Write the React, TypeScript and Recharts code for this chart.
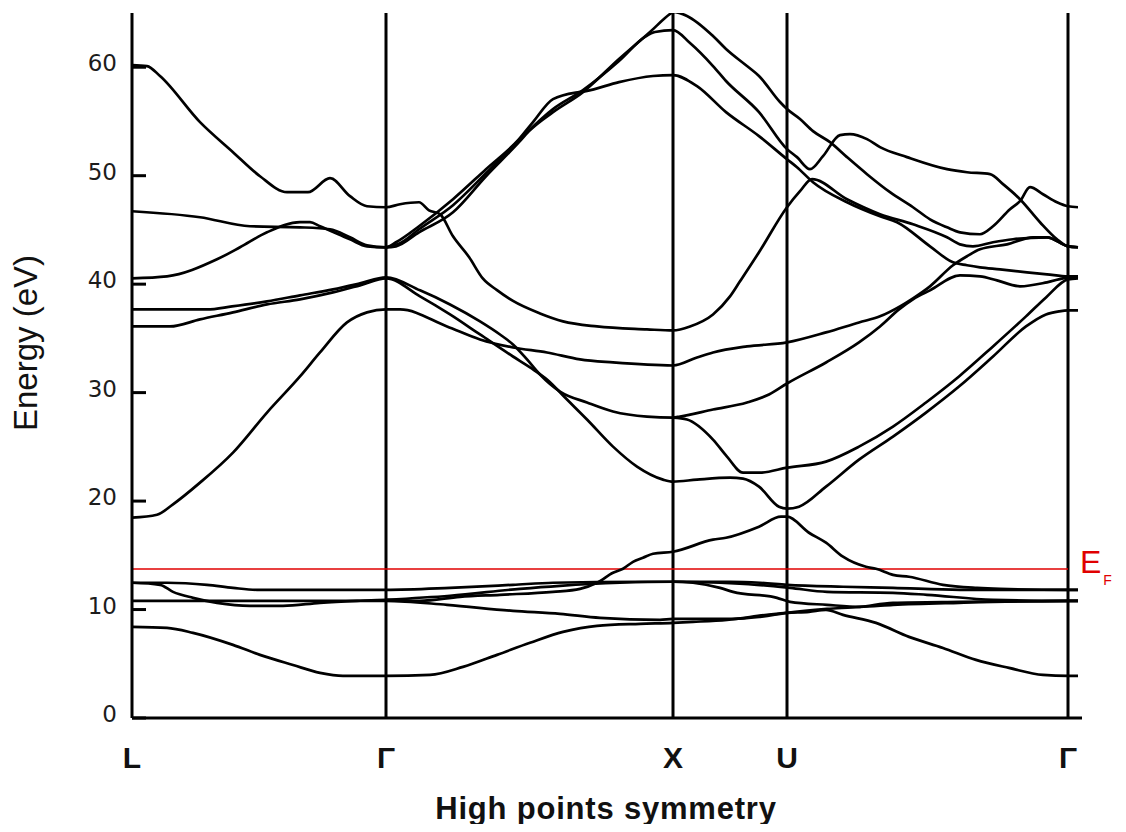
import React from "react";
import { LineChart, Line, XAxis, YAxis, ReferenceLine } from "recharts";

type Pt = [number, number];

// k-path positions of the high-symmetry points and their labels
const symmetryPoints = [0, 254, 541, 655, 936];
const symmetryLabels = ["L", "Γ", "X", "U", "Γ"];
const energyTicks = [0, 10, 20, 30, 40, 50, 60];
const fermiEnergy = 13.73;
const pathEnd = 936;

// bands: [k, energy (eV)]
const bandA: Pt[] = [[0,60.2],[15,60.11],[28,59.19],[68,54.94],[101,52.17],[128,49.95],[155,48.48],[176,48.48],[198,49.77],[218,48.11],[235,47.18],[254,47.09],[268,47.37],[287,47.55],[297,46.81],[308,46.45],[321,44.41],[337,42.5],[351,40.5],[365,39.45],[381,38.45],[408,37.3],[431,36.57],[465,36.1],[515,35.83],[541,35.73],[558,36.1],[581,37.21],[598,38.87],[608,40.26],[627,42.94],[655,47.09],[668,48.57],[680,49.68],[715,47.83],[748,46.45],[781,45.52],[815,44.32],[828,43.67],[841,43.49],[861,43.86],[881,44.14],[915,44.32],[936,43.49],[946,43.4]];
const bandB: Pt[] = [[0,46.72],[68,46.17],[118,45.34],[168,45.24],[198,45.06],[218,44.32],[235,43.58],[254,43.4],[264,43.86],[287,45.34],[321,47.83],[354,50.6],[387,53.37],[401,54.94],[421,57.06],[447,57.71],[454,57.8],[487,58.63],[521,59.19],[541,59.28],[565,58.26],[594,55.86],[627,53.65],[655,51.52],[665,50.78],[681,49.4],[715,47.55],[748,46.26],[765,45.71],[798,43.49],[821,42.01],[835,41.74],[848,41.55],[868,41.37],[895,41.09],[915,40.91],[936,40.72],[946,40.72]];
const bandC: Pt[] = [[0,40.54],[35,40.72],[85,42.29],[108,43.4],[135,44.78],[168,45.71],[178,45.71],[188,45.34],[218,44.14],[235,43.49],[254,43.4],[264,43.49],[287,44.78],[321,46.63],[354,49.95],[387,53.09],[397,54.11],[421,55.86],[451,57.71],[487,60.76],[518,63.25],[538,64.91],[541,65.1],[555,64.73],[581,62.88],[594,61.68],[615,60.11],[627,59.19],[648,56.79],[655,56.14],[668,55.22],[681,54.11],[698,53.09],[715,51.71],[735,50.14],[758,48.48],[781,47.09],[798,45.98],[815,45.24],[828,44.78],[848,44.6],[861,45.34],[878,46.91],[888,47.65],[898,48.94],[911,48.29],[925,47.55],[936,47.18],[946,47.09]];
const bandD3: Pt[] = [[254,43.4],[268,43.77],[287,45.06],[321,47.28],[354,50.23],[387,53.28],[421,56.14],[451,57.89],[487,60.57],[513,62.79],[523,63.25],[541,63.43],[558,62.23],[581,60.11],[594,58.73],[627,55.86],[655,52.45],[665,51.71],[678,50.6],[691,51.8],[708,53.74],[718,53.83],[735,53.37],[748,52.63],[775,51.71],[815,50.6],[835,50.32],[858,50.14],[871,49.22],[888,47.83],[908,45.71],[925,44.14],[936,43.49],[946,43.4]];
const bandD: Pt[] = [[0,37.67],[75,37.67],[100,37.95],[135,38.41],[168,38.97],[201,39.52],[228,40.07],[254,40.63],[288,39.43],[318,38.13],[348,36.57],[368,35.36],[381,34.44],[395,33.06],[408,31.67],[428,30.1],[455,29.09],[481,28.26],[515,27.79],[541,27.7],[548,27.79],[581,28.44],[615,29.09],[637,29.82],[655,30.84],[694,32.78],[727,34.63],[748,36.1],[767,37.67],[781,38.6],[798,39.43],[828,40.81],[848,40.72],[865,40.35],[888,39.8],[915,40.17],[936,40.63],[946,40.72]];
const bandE: Pt[] = [[0,36.1],[38,36.1],[68,36.75],[101,37.4],[135,38.13],[168,38.6],[201,39.24],[228,39.89],[254,40.54],[288,38.87],[318,37.21],[348,35.36],[381,33.33],[398,32.32],[415,31.21],[435,29.36],[455,27.52],[481,25.02],[505,23.18],[531,21.98],[541,21.79],[565,21.98],[598,22.16],[611,22.07],[627,21.33],[647,19.48],[655,19.3],[667,19.48],[694,21.33],[727,23.82],[761,25.95],[794,28.16],[827,30.56],[861,33.33],[894,36.1],[914,37.21],[927,37.49],[936,37.58],[946,37.58]];
const bandF: Pt[] = [[0,18.47],[25,18.74],[41,19.7],[68,21.7],[101,24.47],[135,28.16],[168,31.49],[188,33.7],[215,36.47],[235,37.4],[254,37.67],[268,37.67],[315,36.1],[348,34.9],[381,34.16],[415,33.7],[448,33.06],[481,32.78],[541,32.5],[565,33.24],[581,33.7],[615,34.26],[655,34.63],[694,35.55],[727,36.47],[748,37.03],[768,37.95],[781,38.69],[798,39.8],[821,41.74],[835,42.57],[848,43.21],[875,43.67],[901,44.32],[915,44.32],[936,43.49],[946,43.4]];
const bandK: Pt[] = [[541,27.7],[555,27.52],[581,25.67],[595,24.1],[611,22.62],[628,22.62],[655,23.08],[694,23.64],[727,25.02],[761,26.87],[794,29.09],[827,31.49],[861,34.26],[894,37.03],[914,38.78],[936,40.44],[946,40.54]];
const bandG: Pt[] = [[0,12.47],[35,12.47],[75,12.28],[101,12.0],[125,11.82],[254,11.82],[318,12.0],[381,12.28],[421,12.47],[508,12.56],[541,12.56],[598,12.56],[628,12.47],[655,12.28],[711,12.1],[761,12.0],[828,11.82],[946,11.82]];
const bandH: Pt[] = [[0,12.47],[28,12.28],[41,11.63],[61,11.08],[85,10.62],[118,10.34],[151,10.34],[188,10.62],[225,10.8],[254,10.9],[288,10.8],[328,11.17],[368,11.36],[421,11.63],[448,11.91],[465,12.47],[481,13.39],[491,13.76],[501,14.4],[511,14.77],[521,15.14],[541,15.33],[581,16.44],[594,16.62],[627,17.64],[649,18.56],[655,18.56],[677,17.08],[694,16.16],[711,14.87],[734,13.94],[744,13.76],[761,13.2],[777,13.02],[811,12.28],[845,12.0],[868,11.91],[936,11.82],[946,11.82]];
const bandI: Pt[] = [[0,10.8],[254,10.8],[315,10.43],[381,9.88],[428,9.6],[468,9.23],[528,9.05],[541,9.14],[601,9.14],[628,9.33],[655,9.7],[695,10.06],[728,10.25],[761,10.62],[828,10.71],[946,10.8]];
const bandJ: Pt[] = [[0,8.4],[35,8.31],[61,7.85],[101,6.74],[128,5.82],[161,4.89],[188,4.16],[211,3.88],[254,3.88],[298,3.97],[331,4.71],[365,5.82],[398,6.93],[431,7.94],[465,8.5],[508,8.68],[541,8.77],[561,8.86],[595,9.05],[635,9.51],[655,9.7],[677,9.79],[694,9.97],[711,9.51],[744,8.77],[777,7.48],[811,6.46],[844,5.36],[877,4.62],[911,3.97],[936,3.88],[946,3.88]];
const bandG2: Pt[] = [[254,10.9],[318,11.27],[388,11.91],[428,12.19],[488,12.47],[541,12.56],[561,12.47],[588,12.0],[601,11.63],[645,11.08],[658,10.71],[695,10.43],[728,10.25],[761,10.43],[827,10.62],[936,10.8],[946,10.8]];
const bandG3: Pt[] = [[541,12.56],[588,12.47],[625,12.28],[658,12.0],[695,11.63],[761,11.54],[795,11.36],[861,10.9],[936,10.8],[946,10.8]];

const bands: Pt[][] = [bandA, bandB, bandC, bandD3, bandD, bandE, bandF, bandK, bandG, bandH, bandI, bandJ, bandG2, bandG3];

const YTick = (props: any) => {
  const { x, y, payload } = props;
  return (
    <g>
      <line x1={x + 15} x2={x + 29} y1={y} y2={y} stroke="#000" strokeWidth={3} />
      <text x={x} y={y + 4} textAnchor="end" fontSize={23} fontFamily="DejaVu Sans" fill="#1c1c1c">
        {payload.value}
      </text>
    </g>
  );
};

const XTick = (props: any) => {
  const { x, y, payload } = props;
  const idx = symmetryPoints.indexOf(payload.value);
  return (
    <text x={x} y={y + 50} textAnchor="middle" fontSize={30} fontWeight="bold" fontFamily="Liberation Sans" fill="#111">
      {symmetryLabels[idx]}
    </text>
  );
};

const XLabel = (props: any) => {
  const vb = props.viewBox || { x: 124, y: 710, width: 950, height: 60 };
  return (
    <text x={vb.x + vb.width / 2 - 1} y={vb.y + 101} textAnchor="middle" fontSize={31} fontWeight="bold" fontFamily="Liberation Sans" fill="#111" letterSpacing={0.8}>
      High points symmetry
    </text>
  );
};

const YLabel = (props: any) => {
  const vb = props.viewBox || { x: 64, y: 5, width: 60, height: 705 };
  const cx = vb.x - 35;
  const cy = vb.y + 330;
  return (
    <text x={cx} y={cy} transform={`rotate(-90, ${cx}, ${cy})`} textAnchor="middle" fontSize={33} fontFamily="Liberation Sans" fill="#111">
      Energy (eV)
    </text>
  );
};

const FermiLabel = (props: any) => {
  const vb = props.viewBox || { x: 124, y: 561, width: 936, height: 0 };
  const x = vb.x + vb.width + 12;
  const y = vb.y + 4;
  return (
    <text x={x} y={y} fill="#e00000" fontFamily="Liberation Sans">
      <tspan fontSize={32}>E</tspan>
      <tspan fontSize={14} dx={2} dy={12}>F</tspan>
    </text>
  );
};

export default function App() {
  return (
    <div style={{ width: 1110, height: 816 }}>
      <style>{`.recharts-wrapper, .recharts-surface { overflow: visible !important; }`}</style>
      <LineChart width={1110} height={816} margin={{ top: 5, right: 36, bottom: 46, left: 64 }}>
        <XAxis
          type="number"
          dataKey="k"
          domain={[0, 950]}
          ticks={symmetryPoints}
          interval={0}
          tickSize={0}
          tickMargin={0}
          height={60}
          axisLine={{ stroke: "#000", strokeWidth: 3 }}
          tickLine={false}
          tick={<XTick />}
          label={<XLabel />}
          allowDataOverflow
        />
        <YAxis
          type="number"
          domain={[0, 65]}
          ticks={energyTicks}
          interval={0}
          width={60}
          tickSize={0}
          tickMargin={15}
          axisLine={{ stroke: "#000", strokeWidth: 3 }}
          tickLine={false}
          tick={<YTick />}
          label={<YLabel />}
          allowDataOverflow
        />
        {symmetryPoints.slice(1).map((x) => (
          <ReferenceLine key={x} x={x} stroke="#000" strokeWidth={3} />
        ))}
        <ReferenceLine
          segment={[{ x: 0, y: fermiEnergy }, { x: pathEnd, y: fermiEnergy }]}
          stroke="#e00000"
          strokeWidth={1.5}
          label={<FermiLabel />}
        />
        {bands.map((b, i) => (
          <Line
            key={i}
            data={b.map(([k, e]) => ({ k, e }))}
            dataKey="e"
            type="monotone"
            stroke="#000"
            strokeWidth={2.7}
            dot={false}
            activeDot={false}
            isAnimationActive={false}
          />
        ))}
      </LineChart>
    </div>
  );
}
